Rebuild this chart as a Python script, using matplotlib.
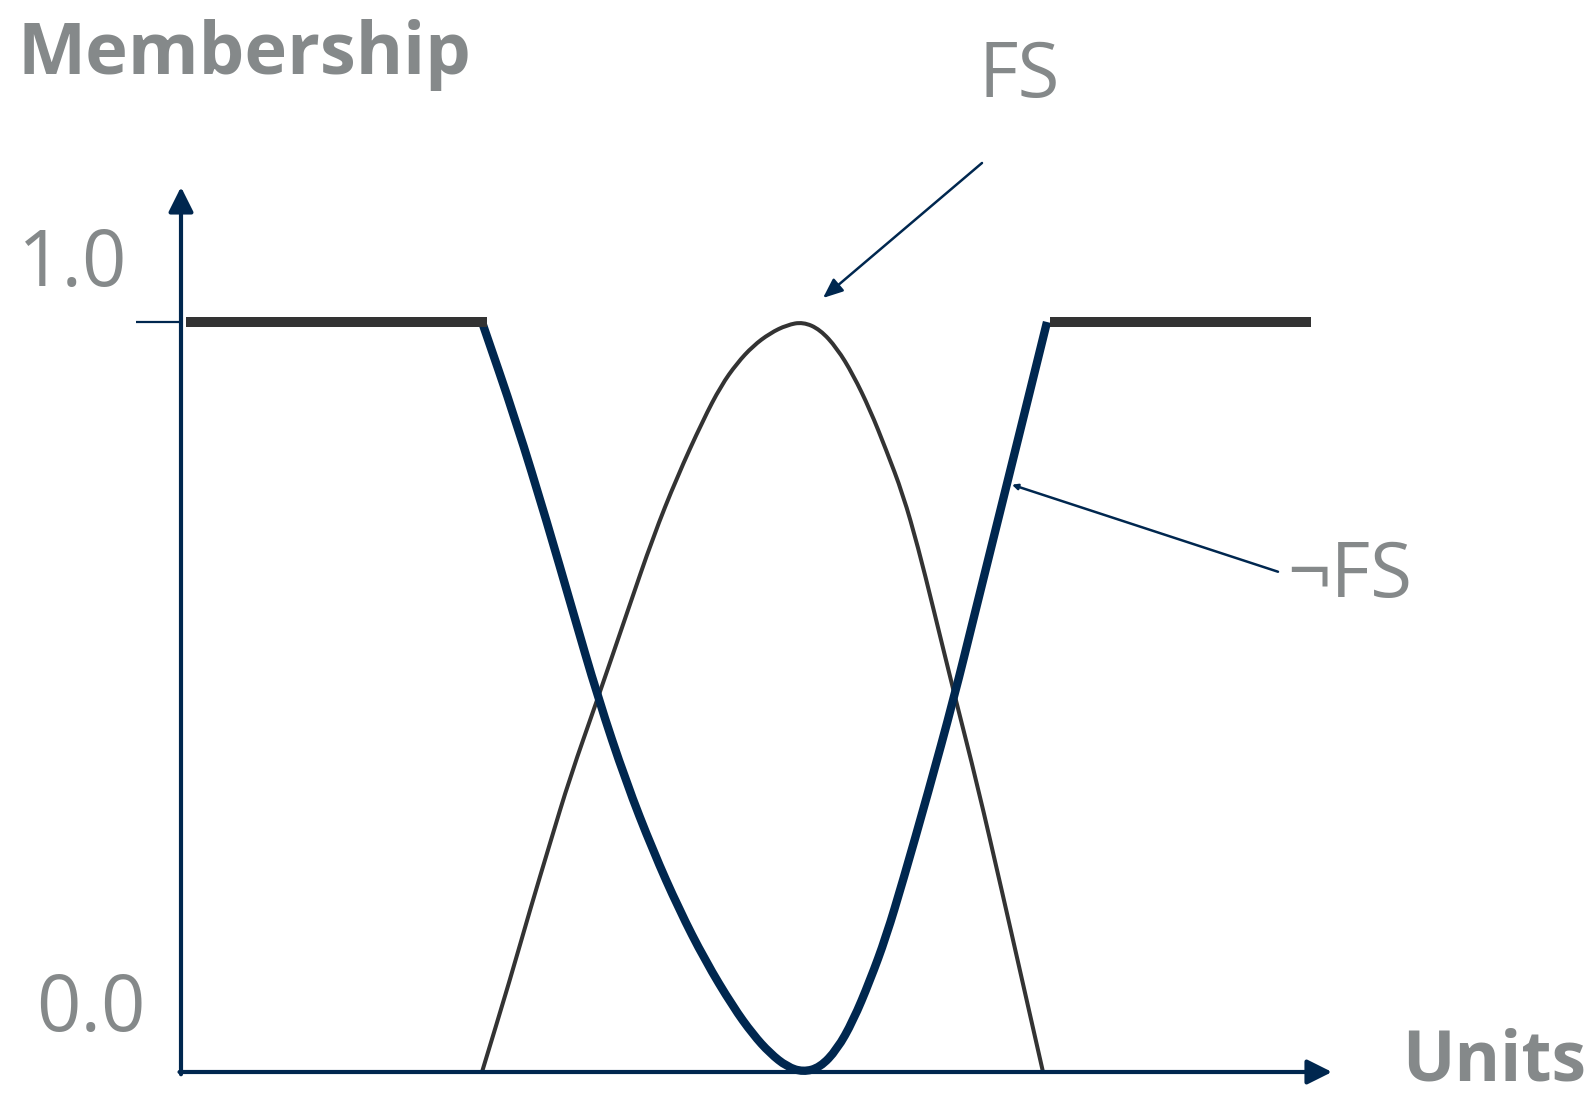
import matplotlib.pyplot as plt
from matplotlib.path import Path
from matplotlib.patches import PathPatch

plt.rcParams['font.family'] = ['Open Sans', 'DejaVu Sans']

navy = '#00274f'
dark = '#333333'
grey = '#85898a'

# FS membership curve (thin)
fs_x = [3.01, 3.29, 3.49, 3.69, 3.89, 4.17, 4.47, 4.72, 4.96, 5.22, 5.40, 5.56, 5.72,
        5.89, 6.06, 6.22, 6.39, 6.56, 6.72, 6.89, 7.05, 7.22, 7.37, 7.52, 7.74, 7.96,
        8.22, 8.39, 8.62]
fs_y = [0.0, 0.123, 0.216, 0.305, 0.393, 0.499, 0.616, 0.713, 0.793, 0.869, 0.915, 0.945,
        0.968, 0.985, 0.996, 1.0, 0.990, 0.965, 0.930, 0.883, 0.830, 0.770, 0.700, 0.620,
        0.500, 0.385, 0.235, 0.135, 0.0]

# not-FS membership curve (thick)
nfs_x = [3.01, 3.35, 3.66, 3.91, 4.17, 4.45, 4.72, 4.98, 5.24, 5.52, 5.72, 5.89, 6.06,
         6.22, 6.39, 6.56, 6.72, 6.89, 7.05, 7.22, 7.47, 7.73, 7.93, 8.25, 8.49, 8.66]
nfs_y = [1.0, 0.868, 0.733, 0.618, 0.499, 0.387, 0.295, 0.217, 0.149, 0.087, 0.050, 0.025,
         0.007, 0.0, 0.006, 0.030, 0.068, 0.122, 0.180, 0.255, 0.372, 0.499, 0.607, 0.779,
         0.908, 1.0]

# flat parts where membership stays at 1
flat_left = [0.05, 3.06]
flat_right = [8.69, 11.30]

y_labels = ['0.0', '1.0']


def smooth_curve(xs, ys):
    # quadratic segments through the midpoints, so the curve has no corners
    verts = [(xs[0], ys[0]), ((xs[0] + xs[1]) / 2, (ys[0] + ys[1]) / 2)]
    codes = [Path.MOVETO, Path.LINETO]
    for i in range(1, len(xs) - 1):
        verts.append((xs[i], ys[i]))
        if i < len(xs) - 2:
            verts.append(((xs[i] + xs[i + 1]) / 2, (ys[i] + ys[i + 1]) / 2))
        else:
            verts.append((xs[i + 1], ys[i + 1]))
        codes += [Path.CURVE3, Path.CURVE3]
    return Path(verts, codes)


fig = plt.figure(figsize=(15.94, 10.99), dpi=100)
ax = fig.add_axes([0, 0, 1, 1])
ax.set_xlim(-1.81, 14.13)
ax.set_ylim(-0.036, 1.4293)
ax.axis('off')

axis_arrow = '-|>,head_length=0.5,head_width=0.25'
ax.annotate('', xy=(0, 1.18), xytext=(0, -0.003),
            arrowprops=dict(arrowstyle=axis_arrow, color=navy, lw=3.0,
                            mutation_scale=30, shrinkA=0, shrinkB=0))
ax.annotate('', xy=(11.51, 0), xytext=(-0.015, 0),
            arrowprops=dict(arrowstyle=axis_arrow, color=navy, lw=3.0,
                            mutation_scale=30, shrinkA=0, shrinkB=0))
ax.plot([-0.45, 0], [1, 1], color=navy, lw=1.6, solid_capstyle='butt')

# curves
ax.plot(flat_left, [1, 1], color=dark, lw=7.2, solid_capstyle='butt')
ax.plot(flat_right, [1, 1], color=dark, lw=7.2, solid_capstyle='butt')
ax.add_patch(PathPatch(smooth_curve(fs_x, fs_y), facecolor='none',
                       edgecolor=dark, lw=2.9, capstyle='butt', joinstyle='round'))
ax.add_patch(PathPatch(smooth_curve(nfs_x, nfs_y), facecolor='none',
                       edgecolor=navy, lw=6.0, capstyle='butt', joinstyle='round'))

# labels
ax.text(-1.08, 1.075, y_labels[1], fontsize=56, color=grey, ha='center', va='center')
ax.text(-0.90, 0.082, y_labels[0], fontsize=56, color=grey, ha='center', va='center')
ax.text(-1.63, 1.331, 'Membership', fontsize=52, fontweight='bold', color=grey,
        ha='left', va='baseline')
ax.text(12.21, -0.012, 'Units', fontsize=50, fontweight='bold', color=grey,
        ha='left', va='baseline')

ax.text(8.38, 1.327, 'FS', fontsize=55, color=grey, ha='center', va='center')
ax.annotate('', xy=(6.42, 1.032), xytext=(8.01, 1.212),
            arrowprops=dict(arrowstyle='-|>,head_length=0.6,head_width=0.25',
                            color=navy, lw=1.8, mutation_scale=20,
                            shrinkA=0, shrinkB=0))

ax.text(11.69, 0.66, '¬FS', fontsize=55, color=grey, ha='center', va='center')
ax.annotate('', xy=(8.31, 0.783), xytext=(10.97, 0.667),
            arrowprops=dict(arrowstyle='-|>', color=navy, lw=1.8,
                            mutation_scale=8, shrinkA=0, shrinkB=0))

fig.savefig('out.png', dpi=100)
